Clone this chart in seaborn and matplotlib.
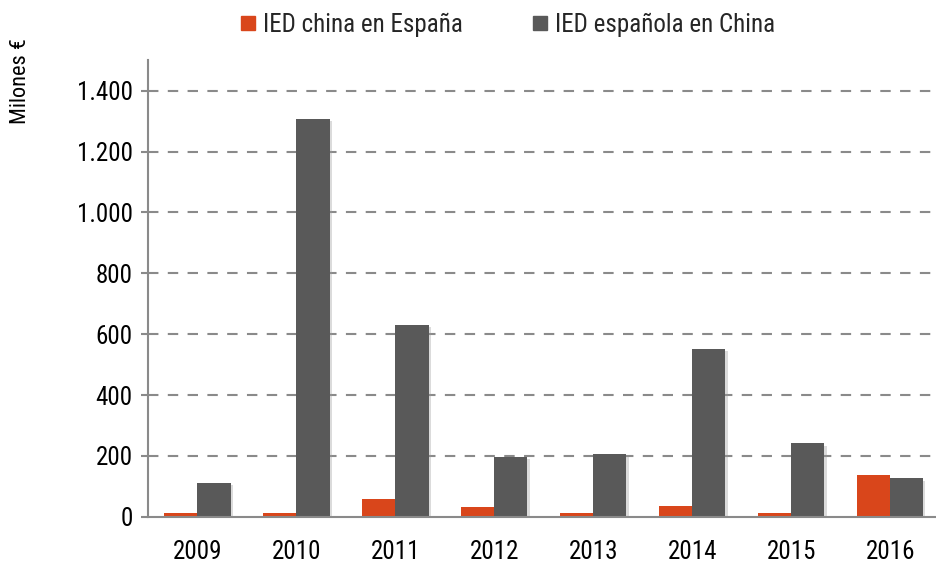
import matplotlib
matplotlib.use("Agg")
import matplotlib.pyplot as plt
import matplotlib.patheffects as pe
from matplotlib.lines import Line2D
import seaborn as sns
import pandas as pd

years = ["2009", "2010", "2011", "2012", "2013", "2014", "2015", "2016"]
ied_china_en_espana = [12, 12, 59, 32, 12, 37, 12, 136]
ied_espanola_en_china = [111, 1308, 630, 197, 205, 551, 241, 126]
series_names = ["IED china en España", "IED española en China"]
colors = ["#D9461B", "#595959"]
yticks = [0, 200, 400, 600, 800, 1000, 1200, 1400]
ytick_labels = ["0", "200", "400", "600", "800", "1.000", "1.200", "1.400"]

df = pd.DataFrame({
    "year": years * 2,
    "value": ied_china_en_espana + ied_espanola_en_china,
    "serie": [series_names[0]] * len(years) + [series_names[1]] * len(years),
})

sns.set_theme(style="white")
plt.rcParams["font.family"] = ["Roboto Condensed", "DejaVu Sans"]

fig = plt.figure(figsize=(9.36, 5.63), dpi=100)
ax = fig.add_axes([0.158, 0.082, 0.846, 0.811])

sns.barplot(data=df, x="year", y="value", hue="serie", palette=colors,
            width=0.67, gap=0, ax=ax, legend=False, saturation=1)

for p in ax.patches:
    p.set_path_effects([pe.SimplePatchShadow(offset=(1.5, -1.5), shadow_rgbFace="#999999", alpha=0.35), pe.Normal()])
    p.set_linewidth(0)

ax.set_xlim(-0.5, 7.5)
ax.set_ylim(0, 1500)
ax.set_yticks(yticks)
ax.set_yticklabels(ytick_labels)
for y in yticks[1:]:
    ax.axhline(y, color="#8a8a8a", linewidth=1.5, linestyle=(0, (5, 4.5)), zorder=0)

ax.set_xlabel("")
ax.set_ylabel("Milones €", fontsize=16, color="black")
ax.yaxis.set_label_coords(-0.148, 0.955)
ax.tick_params(axis="y", labelsize=18, length=5, width=1.5, color="#8a8a8a", left=True, pad=6, labelcolor="black")
ax.tick_params(axis="x", labelsize=18, length=0, pad=17, labelcolor="black")

for s in ["top", "right"]:
    ax.spines[s].set_visible(False)
for s in ["left", "bottom"]:
    ax.spines[s].set_color("#8a8a8a")
    ax.spines[s].set_linewidth(1.5)

handles = [Line2D([0], [0], marker="s", linestyle="", markersize=10,
                  markerfacecolor=c, markeredgecolor=c) for c in colors]
fig.legend(handles, series_names, loc="upper center", bbox_to_anchor=(0.54, 1.018),
           ncol=2, frameon=False, fontsize=18, handletextpad=0.1, columnspacing=2.6,
           handlelength=1.0)

fig.savefig("out.png", dpi=100)
